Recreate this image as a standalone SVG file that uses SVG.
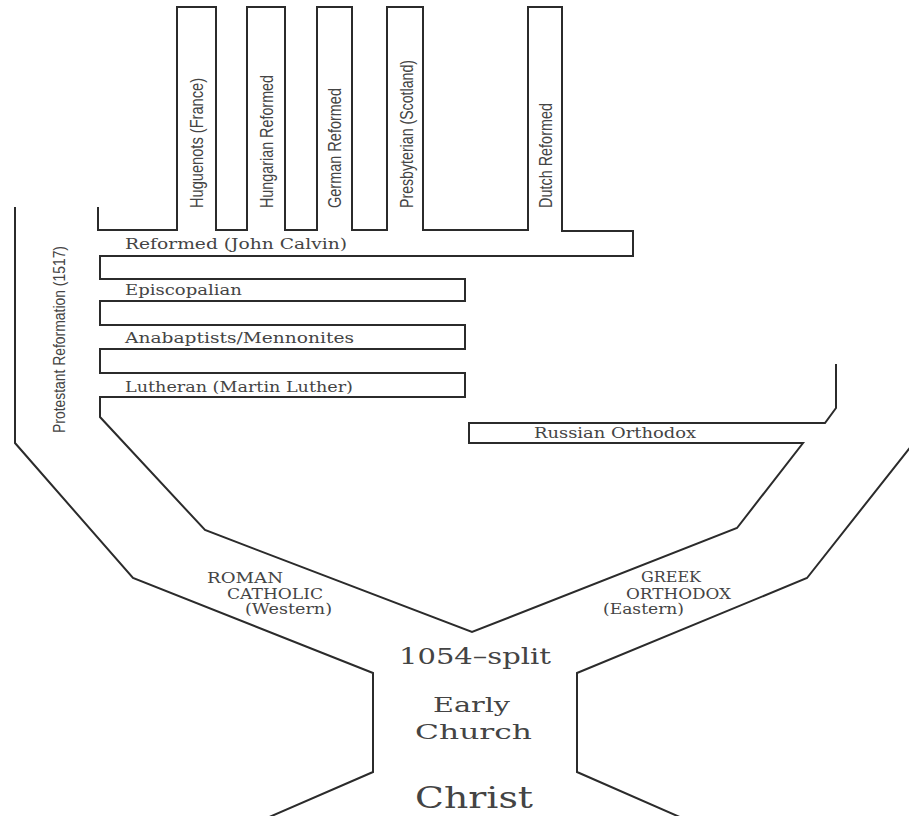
<svg xmlns="http://www.w3.org/2000/svg" width="909" height="816" viewBox="0 0 909 816">
<style>
.ln{fill:none;stroke:#2b2b2b;stroke-width:2;stroke-linejoin:miter}
.sl{font-family:"DejaVu Serif","Liberation Serif",serif;fill:#444}
.vs{font-family:"Liberation Sans","DejaVu Sans",sans-serif;fill:#444;font-size:19px}
.bar{font-size:14px}
.big{font-size:22px}
</style>
<rect width="909" height="816" fill="#ffffff"/>
<g id="connectors">
<path class="ln" d="M15,207 L15,443 L133,578 L373,673 L373,772 L267,818"/>
<path class="ln" d="M98,207 L98,230 L177,230 L177,7 L216,7 L216,230 L247,230 L247,7 L285,7 L285,230 L317,230 L317,7 L352,7 L352,230 L387,230 L387,7 L423,7 L423,230 L528,230 L528,7 L562,7 L562,231 L633,231 L633,256 L100,256 L100,279 L465,279 L465,301 L100,301 L100,325 L465,325 L465,349 L100,349 L100,373 L465,373 L465,397 L100,397 L100,417 L205,530 L472,632 L737,528 L803,443 L469,443 L469,423 L825,423 L836,408 L836,364"/>
<path class="ln" d="M916,440 L807,578 L577,673 L577,772 L682,818"/>
</g>
<g id="huguenots"><text class="vs" transform="translate(203,208) rotate(-90)" textLength="130" lengthAdjust="spacingAndGlyphs">Huguenots (France)</text></g>
<g id="hungarian"><text class="vs" transform="translate(273,208) rotate(-90)" textLength="133" lengthAdjust="spacingAndGlyphs">Hungarian Reformed</text></g>
<g id="german"><text class="vs" transform="translate(341,208) rotate(-90)" textLength="120" lengthAdjust="spacingAndGlyphs">German Reformed</text></g>
<g id="presbyterian"><text class="vs" transform="translate(413,208) rotate(-90)" textLength="148" lengthAdjust="spacingAndGlyphs">Presbyterian (Scotland)</text></g>
<g id="dutch"><text class="vs" transform="translate(552,208) rotate(-90)" textLength="105" lengthAdjust="spacingAndGlyphs">Dutch Reformed</text></g>
<g id="protestant"><text class="vs" style="font-size:17px" transform="translate(65,433) rotate(-90)" textLength="187" lengthAdjust="spacingAndGlyphs">Protestant Reformation (1517)</text></g>
<g id="reformed"><text class="sl bar" x="125" y="249" textLength="222" lengthAdjust="spacingAndGlyphs">Reformed (John Calvin)</text></g>
<g id="episcopalian"><text class="sl bar" x="125" y="295" textLength="117" lengthAdjust="spacingAndGlyphs">Episcopalian</text></g>
<g id="anabaptists"><text class="sl bar" x="125" y="343" textLength="229" lengthAdjust="spacingAndGlyphs">Anabaptists/Mennonites</text></g>
<g id="lutheran"><text class="sl bar" x="125" y="392" textLength="228" lengthAdjust="spacingAndGlyphs">Lutheran (Martin Luther)</text></g>
<g id="russian"><text class="sl bar" x="534" y="438" textLength="162" lengthAdjust="spacingAndGlyphs">Russian Orthodox</text></g>
<g id="roman">
<text class="sl bar" x="207" y="583" textLength="76" lengthAdjust="spacingAndGlyphs">ROMAN</text>
<text class="sl bar" x="227" y="599" textLength="96" lengthAdjust="spacingAndGlyphs">CATHOLIC</text>
<text class="sl bar" x="245" y="614" textLength="87" lengthAdjust="spacingAndGlyphs">(Western)</text>
</g>
<g id="greek">
<text class="sl bar" x="641" y="582" textLength="60" lengthAdjust="spacingAndGlyphs">GREEK</text>
<text class="sl bar" x="626" y="599" textLength="105" lengthAdjust="spacingAndGlyphs">ORTHODOX</text>
<text class="sl bar" x="603" y="614" textLength="81" lengthAdjust="spacingAndGlyphs">(Eastern)</text>
</g>
<g id="split"><text class="sl big" x="399" y="664" textLength="152" lengthAdjust="spacingAndGlyphs">1054–split</text></g>
<g id="early">
<text class="sl" style="font-size:21px" x="433" y="712" textLength="77" lengthAdjust="spacingAndGlyphs">Early</text>
<text class="sl" style="font-size:21px" x="415" y="739" textLength="117" lengthAdjust="spacingAndGlyphs">Church</text>
</g>
<g id="christ"><text class="sl" style="font-size:29px" x="415" y="808" textLength="118" lengthAdjust="spacingAndGlyphs">Christ</text></g>
</svg>
